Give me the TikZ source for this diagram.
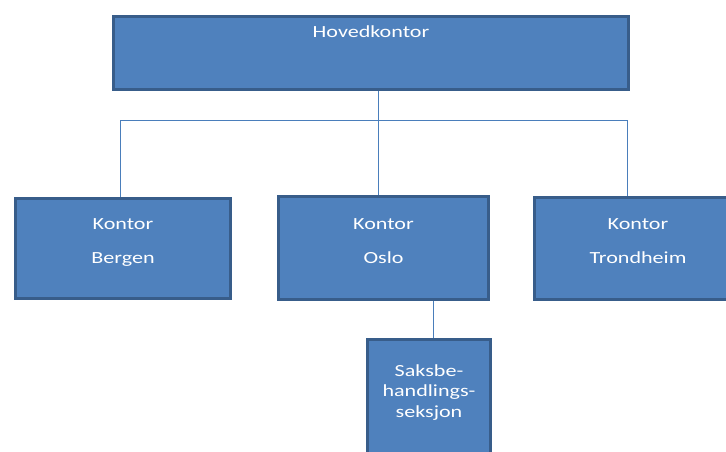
\documentclass[tikz,border=0pt]{standalone}
\usepackage{fontspec}
\setmainfont{Carlito}[FakeStretch=1.3]
\usepackage{tikz}
\definecolor{boxfill}{RGB}{79,129,189}
\definecolor{boxedge}{RGB}{56,93,138}
\definecolor{linkblue}{RGB}{74,126,187}
\begin{document}
\begin{tikzpicture}[x=1pt,y=-1pt,
    orgbox/.style={draw=boxedge,fill=boxfill,line width=3pt,rectangle,inner sep=0pt},
    orgtext/.style={text=white,align=center,inner sep=0pt,font=\fontsize{17}{20.5}\selectfont},
    orgline/.style={draw=linkblue,line width=1pt}]
            \useasboundingbox (0,0) rectangle (726,451);
            \clip (0,0) rectangle (726,451);
            % boxes
            \node[orgbox,minimum width=515pt,minimum height=73pt] (hoved) at (371,53) {};
            \node[orgbox,minimum width=215pt,minimum height=100pt] (bergen) at (123,248.5) {};
            \node[orgbox,minimum width=210pt,minimum height=103pt] (oslo) at (383.5,248) {};
            \node[orgbox,minimum width=207pt,minimum height=102pt] (trond) at (638,248.5) {};
            \node[orgbox,minimum width=123pt,minimum height=119pt] (saks) at (429,399) {};
            % texts
            \node[orgtext] (hovedtxt) at (371,32) {Hovedkontor};
            \node[orgtext] (bergentxt) at (123,242) {Kontor\\[13.5pt]Bergen};
            \node[orgtext] (oslotxt) at (383.5,241) {Kontor\\[13.5pt]Oslo};
            \node[orgtext] (trondtxt) at (638,241.5) {Kontor\\[13.5pt]Trondheim};
            \node[orgtext] (saksttxt) at (429,392.5) {Saksbe-\\handlings-\\seksjon};
            % connectors
            \coordinate (jmid) at (378,120);
            \coordinate (jleft) at (120,120);
            \coordinate (jright) at (627,120);
            \coordinate (jsaks) at (433,320);
            \draw[orgline] (hoved.south -| jmid) -- (oslo.north -| jmid);
            \draw[orgline] (jleft) -- (jright);
            \draw[orgline] (jleft) -- (bergen.north -| jleft);
            \draw[orgline] (jright) -- (trond.north -| jright);
            \draw[orgline] (oslo.south -| jsaks) -- (saks.north -| jsaks);
\end{tikzpicture}
\end{document}
